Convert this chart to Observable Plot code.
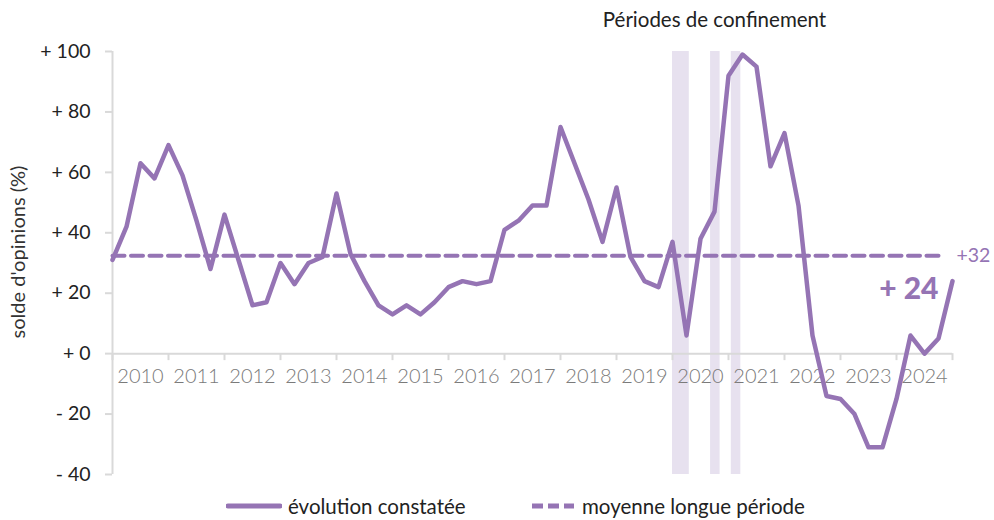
<!DOCTYPE html>
<html><head><meta charset="utf-8">
<script src="https://cdn.jsdelivr.net/npm/d3@7"></script>
<script src="https://cdn.jsdelivr.net/npm/@observablehq/plot@0.6"></script>
<style>
body{margin:0;background:#fff;font-family:Lato,"Open Sans",sans-serif;}
#chart{position:relative;width:994px;height:520px;overflow:hidden;}
#legend{position:absolute;left:0;top:490px;width:994px;height:32px;font-size:20.5px;color:#222;}
.item{position:absolute;top:0;height:32px;display:flex;align-items:center;}
.item svg{margin-right:6px;}
</style></head><body>
<div id="chart"><div id="plot"></div><div id="legend"></div></div>
<script>
// Quarterly survey values (Jan, Apr, Jul, Oct) from 2010 to Jan 2025
const values = [31,42,63,58, 69,59,44,28, 46,31,16,17, 30,23,30,32, 53,33,24,16,
  13,16,13,17, 22,24,23,24, 41,44,49,49, 75,63,51,37, 55,32,24,22,
  37,6,38,47, 92,99,95,62, 73,49,6,-14, -15,-20,-31,-31, -15,6,0,5, 24];
const startYear = 2010;
const periods = values.map((_, i) => startYear + i / 4);
const years = [2010,2011,2012,2013,2014,2015,2016,2017,2018,2019,2020,2021,2022,2023,2024];
const yearBounds = [...years, 2025];
const longTermMean = 32.4;
const meanLabel = "+32";
const lastLabel = "+ 24";
const confStart = [2020.0, 2020.68, 2021.05];
const confEnd = [2020.3, 2020.85, 2021.22];
const confTitle = "Périodes de confinement";
const yTicks = [-40,-20,0,20,40,60,80,100];
const yTickLabels = ["- 40","- 20","+ 0","+ 20","+ 40","+ 60","+ 80","+ 100"];
const yLabel = "solde d'opinions (%)";
const seriesNames = ["évolution constatée", "moyenne longue période"];

const purple = "#9574b4";
const data = values.map((v, i) => ({x: periods[i], y: v}));
const bands = confStart.map((s, i) => ({x1: s, x2: confEnd[i]}));
const meanData = [{x: startYear, y: longTermMean}, {x: periods[periods.length - 2], y: longTermMean}];

const plot = Plot.plot({
  width: 994, height: 490,
  marginLeft: 112, marginRight: 42, marginTop: 51, marginBottom: 16,
  style: {fontFamily: "Lato, 'Open Sans', sans-serif", fontSize: "18px", background: "#fff"},
  x: {type: "linear", domain: [2010, 2025], axis: null},
  y: {domain: [-40, 100], axis: null},
  marks: [
    Plot.rectX(bands, {x1: "x1", x2: "x2", y1: -40, y2: 100, fill: "#e7e1ef"}),
    Plot.ruleX([2010], {y1: -40, y2: 100, stroke: "#d9d9d9", strokeWidth: 2}),
    Plot.ruleY([0], {x1: 2010, x2: 2025, stroke: "#d9d9d9", strokeWidth: 2}),
    Plot.ruleX(yearBounds, {x: d => d, y1: 0, y2: 0, insetBottom: -7, stroke: "#d9d9d9", strokeWidth: 2}),
    Plot.axisY({ticks: yTicks, label: null, tickFormat: d => yTickLabels[yTicks.indexOf(d)], tickSize: 7, tickPadding: 15,
      stroke: "#d9d9d9", strokeWidth: 2, fill: "#222", fontSize: 19.5}),
    Plot.text(years, {x: d => d + 0.5, y: 0, dy: 23, text: d => String(d), fill: "#7a7a7a", fontWeight: 300, fontSize: 20}),
    Plot.text([yLabel], {frameAnchor: "left", textAnchor: "middle", lineAnchor: "middle", dx: -94, dy: -11, rotate: -90, fill: "#333", fontSize: 20}),
    Plot.text([confTitle], {x: [2020.75], frameAnchor: "top", lineAnchor: "middle", dy: -31, fill: "#222", fontSize: 20.5}),
    Plot.line(meanData, {x: "x", y: "y", stroke: purple, strokeWidth: 4, strokeDasharray: "12,6.5"}),
    Plot.line(data, {x: "x", y: "y", stroke: purple, strokeWidth: 4.5, strokeLinejoin: "round", strokeLinecap: "round"}),
    Plot.text([meanLabel], {x: [meanData[1].x], y: [longTermMean], dx: 18, textAnchor: "start", fill: purple, fontSize: 19.5}),
    Plot.text([lastLabel], {x: [periods[periods.length - 1]], y: [values[values.length - 1]], dx: -14, dy: 8, textAnchor: "end", fill: purple, fontSize: 30, fontWeight: 900})
  ]
});
document.getElementById("plot").appendChild(plot);

const legend = document.getElementById("legend");
const items = [
  {name: seriesNames[0], left: 226, dash: null, w: 54},
  {name: seriesNames[1], left: 530, dash: "11,5", w: 44}
];
for (const it of items) {
  const div = document.createElement("div");
  div.className = "item";
  div.style.left = it.left + "px";
  div.innerHTML = `<svg width="${it.w + 2}" height="10"><line x1="2" x2="${it.w}" y1="5" y2="5" stroke="${purple}" stroke-width="5" stroke-linecap="${it.dash ? 'butt' : 'round'}" ${it.dash ? `stroke-dasharray="${it.dash}"` : ""}/></svg><span>${it.name}</span>`;
  legend.appendChild(div);
}
</script>
</body></html>
